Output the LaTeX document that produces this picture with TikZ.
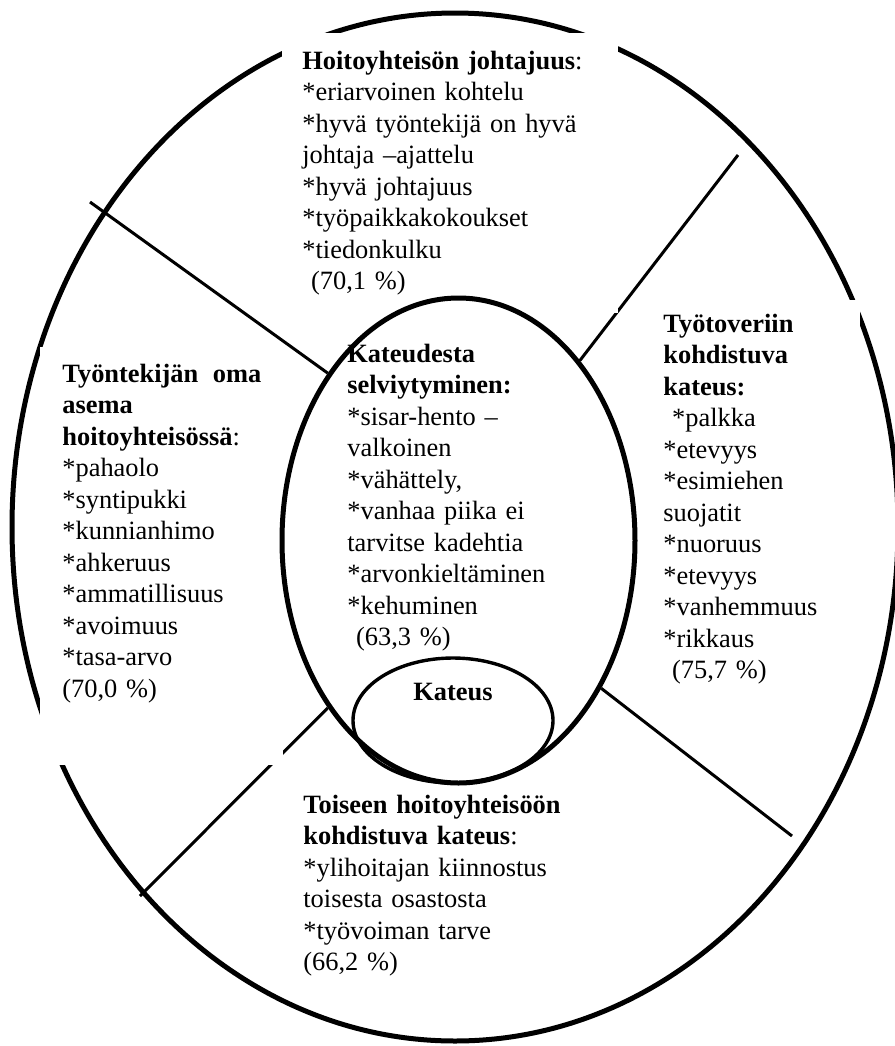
\documentclass[tikz,border=0pt]{standalone}
\usepackage{fontspec}
\setmainfont{Liberation Serif}
\usetikzlibrary{shapes.geometric,backgrounds}

\begin{document}
\begin{tikzpicture}[
  x=0.5pt, y=-0.5pt,
  ring/.style={
    ellipse, draw=black, line width=2.5pt, inner sep=0pt
  },
  spoke/.style={draw=black, line width=1.5pt},
  txt/.style={
    align=left, anchor=base west, inner ysep=0pt,
    font=\fontsize{13.2pt}{15.75pt}\selectfont, text=black
  },
  gapbox/.style={txt, fill=white}
]
\useasboundingbox (0,0) rectangle (895,1046);

%=== TEXT BOXES (white, over the outer ring) ===
\node[gapbox, inner xsep=10pt, inner ysep=9pt, text width=148pt] (johto) at (282,69)
  {\textbf{Hoitoyhteisön johtajuus}:\\
   {*}eriarvoinen kohtelu\\
   {*}hyvä työntekijä on hyvä\\
   johtaja –ajattelu\\
   {*}hyvä johtajuus\\
   {*}työpaikkakokoukset\\
   {*}tiedonkulku\\
   ~(70,1~\%)};
\node[gapbox, inner xsep=11pt, inner ysep=8.4pt, text width=99.5pt, text depth=183pt] (oma) at (40,382)
  {\textbf{Työntekijän\hfill oma}\\
   \textbf{asema}\\
   \textbf{hoitoyhteisössä}:\\
   {*}pahaolo\\
   {*}syntipukki\\
   {*}kunnianhimo\\
   {*}ahkeruus\\
   {*}ammatillisuus\\
   {*}avoimuus\\
   {*}tasa-arvo\\
   (70,0~\%)};
\node[gapbox, inner xsep=4pt, inner ysep=7pt, text width=94.5pt] (tyotov) at (655,332)
  {\textbf{Työtoveriin}\\
   \textbf{kohdistuva}\\
   \textbf{kateus:}\\
   ~{*}palkka\\
   {*}etevyys\\
   {*}esimiehen\\
   suojatit\\
   {*}nuoruus\\
   {*}etevyys\\
   {*}vanhemmuus\\
   {*}rikkaus\\
   ~(75,7~\%)};

%=== INNER RINGS ===
\node[ring, minimum width=176.5pt, minimum height=242.5pt] (selv) at (458.5,540.5) {};
\node[ring, line width=1.7pt, minimum width=100pt, minimum height=62.5pt,
  font=\fontsize{13.2pt}{15.75pt}\selectfont\bfseries,
  text height=9pt, text depth=29pt] (kateus) at (453,720.5) {Kateus};

%=== INNER TEXTS ===
\node[txt, inner xsep=0pt, text width=110pt] (selvtxt) at (347,362)
  {\textbf{Kateudesta}\\
   \textbf{selviytyminen:}\\
   {*}sisar-hento –\\
   valkoinen\\
   {*}vähättely,\\
   {*}vanhaa piika ei\\
   tarvitse kadehtia\\
   {*}arvonkieltäminen\\
   {*}kehuminen\\
   ~(63,3~\%)};
\node[txt, inner xsep=0pt, text width=135pt] (toiseen) at (303,813)
  {\textbf{Toiseen hoitoyhteisöön}\\
   \textbf{kohdistuva kateus}:\\
   {*}ylihoitajan kiinnostus\\
   toisesta osastosta\\
   {*}työvoiman tarve\\
   (66,2~\%)};

%=== OUTER RING AND SPOKES (behind the boxes) ===
\coordinate (tl) at (90,202);
\coordinate (tr) at (738,155);
\coordinate (br) at (792,836);
\coordinate (bl) at (140,896);
\begin{scope}[on background layer]
  \node[ring, minimum width=443pt, minimum height=514pt] (outer) at (455,527) {};
  \draw[spoke] (tl) -- (selv.128);
  \draw[spoke] (tr) -- (selv.56);
  \draw[spoke] (br) -- (selv.-46);
  \draw[spoke] (bl) -- (selv.232);
\end{scope}

\end{tikzpicture}
\end{document}
